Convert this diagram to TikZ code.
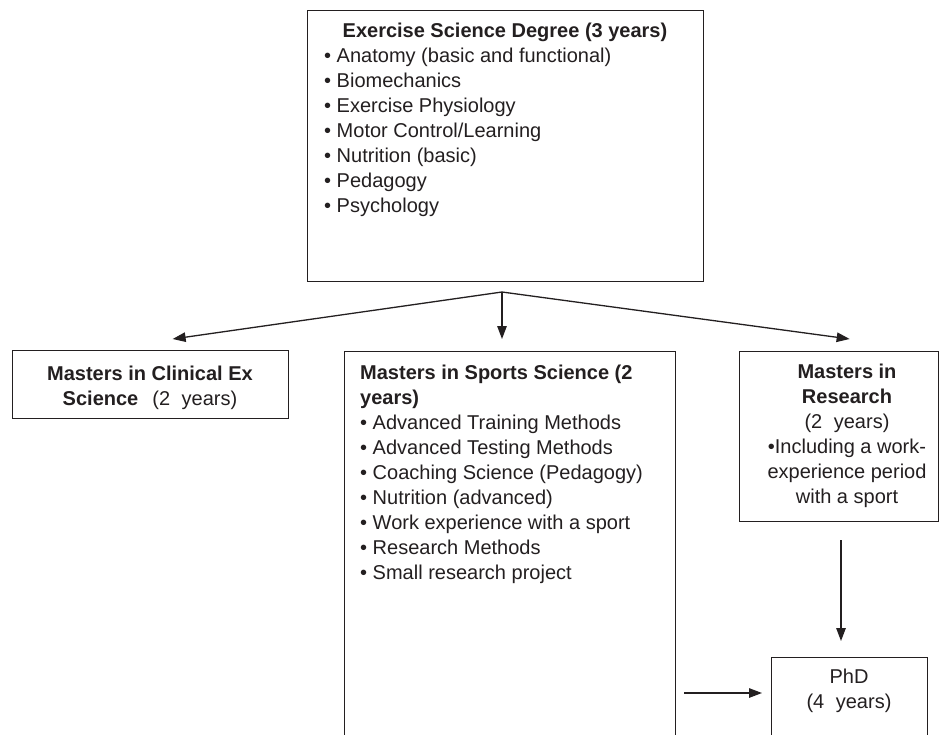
\documentclass[tikz,border=0pt]{standalone}
\usepackage{fontspec}
\setmainfont{Liberation Sans}
\usetikzlibrary{arrows.meta}
\definecolor{ink}{HTML}{231F20}
\begin{document}
\begin{tikzpicture}[x=1pt,y=-1pt,
  box/.style={draw=ink, line width=1.3pt, inner sep=0pt, anchor=north west},
  arr/.style={draw=ink, line width=1.3pt, -{Triangle[length=13pt,width=9.5pt]}},
  txt/.style={text=ink, inner sep=0pt, font=\fontsize{20}{25}\selectfont}]
\useasboundingbox (0,0) rectangle (940,734);
\fill[white] (0,0) rectangle (940,734);
\clip (0,0) rectangle (940,734);
% boxes
\node[box, minimum width=396pt, minimum height=271pt] (top) at (307,10) {};
\node[box, minimum width=276pt, minimum height=68pt] (clin) at (12,350) {};
\node[box, minimum width=331pt, minimum height=420pt] (sports) at (344,351) {};
\node[box, minimum width=199pt, minimum height=170pt] (research) at (739,351) {};
\node[box, minimum width=156pt, minimum height=110pt] (phd) at (771,657) {};
% texts (multi-line nodes: base anchor = baseline of last line)
\node[txt, anchor=base] (toptitle) at (505,37) {\bfseries Exercise Science Degree (3 years)};
\node[txt, anchor=base west, align=left] (toplist) at (324,212) {%
• Anatomy (basic and functional)\\
• Biomechanics\\
• Exercise Physiology\\
• Motor Control/Learning\\
• Nutrition (basic)\\
• Pedagogy\\
• Psychology};
\node[txt, anchor=base, align=center] (clintext) at (150,405) {%
{\bfseries Masters in Clinical Ex}\\
{\bfseries Science}\hspace{14pt}(2\hspace{6pt} years)};
\node[txt, anchor=base west, align=left] (sportstext) at (360,579) {%
{\bfseries Masters in Sports Science (2}\\
{\bfseries years)}\\
• Advanced Training Methods\\
• Advanced Testing Methods\\
• Coaching Science (Pedagogy)\\
• Nutrition (advanced)\\
• Work experience with a sport\\
• Research Methods\\
• Small research project};
\node[txt, anchor=base, align=center] (restext) at (847,503) {%
{\bfseries Masters in}\\
{\bfseries Research}\\
(2\hspace{6pt} years)\\
•Including a work-\\
experience period\\
with a sport};
\node[txt, anchor=base, align=center] (phdtext) at (849,708) {%
PhD\\
(4\hspace{6pt} years)};
% connectors
\coordinate (split) at (502,292);
\coordinate (vx) at (841,0);
\coordinate (hy) at (0,693);
\draw[arr] (split) -- ([xshift=22pt,yshift=11pt]clin.north);
\draw[arr, shorten >=12pt] (split) -- (split |- sports.north);
\draw[arr] (split) -- ([xshift=10.5pt,yshift=12pt]research.north);
\draw[arr, shorten <=18pt, shorten >=16pt] (research.south -| vx) -- (phd.north -| vx);
\draw[arr, shorten <=8pt, shorten >=9pt] (sports.east |- hy) -- (phd.west |- hy);
\end{tikzpicture}
\end{document}
